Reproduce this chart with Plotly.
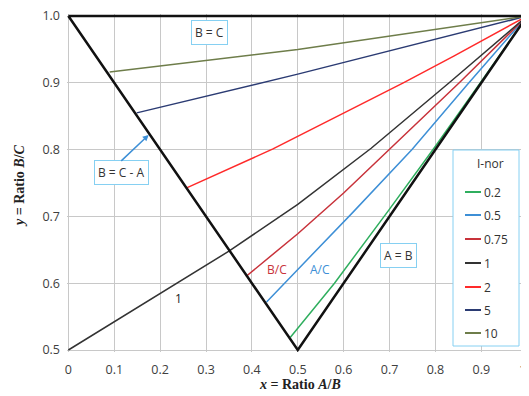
import plotly.graph_objects as go

# ---- data ----
series_names = ["0.2", "0.5", "0.75", "1", "2", "5", "10"]
series_colors = ["#2fae5e", "#3d8fd6", "#c8323a", "#333333", "#ff2a2a", "#2b3b73", "#6e7d4a"]

x_02 = [0.484, 0.58, 0.698, 0.80, 0.90, 1.0]
y_02 = [0.519, 0.60, 0.709, 0.805, 0.902, 1.0]

x_05 = [0.432, 0.62, 0.749, 0.873, 1.0]
y_05 = [0.572, 0.706, 0.80, 0.90, 1.0]

x_075 = [0.387, 0.5, 0.6, 0.70, 0.852, 1.0]
y_075 = [0.610, 0.674, 0.735, 0.80, 0.90, 1.0]

x_1 = [0.0, 0.175, 0.35, 0.5, 0.66, 0.83, 1.0]
y_1 = [0.5, 0.574, 0.648, 0.718, 0.802, 0.90, 1.0]

x_2 = [0.259, 0.446, 0.73, 0.84, 1.0]
y_2 = [0.743, 0.801, 0.90, 0.94, 1.0]

x_5 = [0.149, 0.5, 1.0]
y_5 = [0.855, 0.913, 1.0]

x_10 = [0.09, 0.5, 1.0]
y_10 = [0.916, 0.950, 1.0]

boundary_x = [0.0, 0.5, 1.0, 0.0]
boundary_y = [1.0, 0.5, 1.0, 1.0]

x_ticks = [0, 0.1, 0.2, 0.3, 0.4, 0.5, 0.6, 0.7, 0.8, 0.9]
x_tick_labels = ["0", "0.1", "0.2", "0.3", "0.4", "0.5", "0.6", "0.7", "0.8", "0.9"]
x_last_label = "1"
y_ticks = [0.5, 0.6, 0.7, 0.8, 0.9, 1.0]
y_tick_labels = ["0.5", "0.6", "0.7", "0.8", "0.9", "1.0"]

series_x = [x_02, x_05, x_075, x_1, x_2, x_5, x_10]
series_y = [y_02, y_05, y_075, y_1, y_2, y_5, y_10]

# ---- layout geometry (screen pixels; page body adds an 8px offset) ----
W, H = 521, 388
ML, MR, MT, MB = 59, 0, 6, 44
PL = ML + 8
PT = MT + 8
PW = W - ML - MR
PH = H - MT - MB
PB = PT + PH


def px2x(px):
    return (px - PL) / PW


def py2y(py):
    return (PB - py) / PH


fig = go.Figure()
for name, col, xs, ys in zip(series_names, series_colors, series_x, series_y):
    fig.add_trace(go.Scatter(x=xs, y=ys, mode="lines", name=name, showlegend=False,
                             line=dict(color=col, width=1.5)))

fig.add_trace(go.Scatter(x=boundary_x, y=boundary_y, mode="lines",
                         line=dict(color="#111111", width=2.5),
                         showlegend=False, hoverinfo="skip"))

box_col = "#86d0f2"
txt_font = dict(family="Open Sans, Lato, sans-serif", size=12, color="#333333")
ann = [
    dict(x=0.307, y=0.976, text="B = C", showarrow=False, font=txt_font,
         bordercolor=box_col, borderwidth=1, borderpad=3, bgcolor="white"),
    dict(x=0.116, y=0.765, text="B = C - A", showarrow=False, font=txt_font,
         bordercolor=box_col, borderwidth=1, borderpad=3, bgcolor="white"),
    dict(x=0.72, y=0.642, text="A = B", showarrow=False, font=txt_font,
         bordercolor=box_col, borderwidth=1, borderpad=3, bgcolor="white"),
    dict(x=0.175, y=0.822, ax=0.112, ay=0.781, axref="x", ayref="y", text="",
         showarrow=True, arrowhead=2, arrowsize=0.8, arrowwidth=1.5, arrowcolor="#3d8fd6"),
    dict(x=0.454, y=0.621, text="B/C", showarrow=False,
         font=dict(family="Open Sans, sans-serif", size=12, color="#c8323a")),
    dict(x=0.549, y=0.621, text="A/C", showarrow=False,
         font=dict(family="Open Sans, sans-serif", size=12, color="#3d8fd6")),
    dict(x=0.24, y=0.577, text="1", showarrow=False,
         font=dict(family="Open Sans, sans-serif", size=12, color="#222222")),
    dict(xref="paper", yref="paper", x=px2x(300), y=py2y(384),
         text="<b><i>x</i> = Ratio <i>A</i>/<i>B</i></b>",
         showarrow=False, font=dict(family="Liberation Serif, serif", size=14, color="#222222"),
         xanchor="center", yanchor="middle"),
    dict(xref="paper", yref="paper", x=px2x(20), y=py2y(186),
         text="<b><i>y</i> = Ratio <i>B</i>/<i>C</i></b>",
         showarrow=False, textangle=-90,
         font=dict(family="Liberation Serif, serif", size=14, color="#222222"),
         xanchor="center", yanchor="middle"),
    # last x tick label, kept fully inside the right edge
    dict(xref="paper", yref="paper", x=1.0, y=py2y(369), text=x_last_label,
         showarrow=False, xanchor="right", yanchor="middle", xshift=-1,
         font=dict(family="Open Sans, sans-serif", size=12.5, color="#404040")),
]

# ---- manual legend ----
shapes = [dict(type="rect", xref="paper", yref="paper",
               x0=px2x(453), x1=px2x(519), y0=py2y(346), y1=py2y(150),
               line=dict(color=box_col, width=1), fillcolor="white", layer="above")]
ann.append(dict(xref="paper", yref="paper", x=px2x(490), y=py2y(163), text="I-nor",
                showarrow=False, xanchor="center", yanchor="middle",
                font=dict(family="Open Sans, sans-serif", size=12, color="#333333")))
entry_py = [192, 215, 239, 263, 287, 310, 333]
for name, col, py in zip(series_names, series_colors, entry_py):
    shapes.append(dict(type="line", xref="paper", yref="paper",
                       x0=px2x(465), x1=px2x(481), y0=py2y(py), y1=py2y(py),
                       line=dict(color=col, width=2), layer="above"))
    ann.append(dict(xref="paper", yref="paper", x=px2x(482), y=py2y(py), text=name,
                    showarrow=False, xanchor="left", yanchor="middle",
                    font=dict(family="Open Sans, sans-serif", size=12, color="#333333")))

fig.update_layout(
    width=W, height=H,
    margin=dict(l=ML, r=MR, t=MT, b=MB, pad=0),
    paper_bgcolor="white", plot_bgcolor="white",
    font=dict(family="Open Sans, sans-serif", size=12, color="#404040"),
    annotations=ann, shapes=shapes,
    showlegend=False,
    xaxis=dict(range=[-0.003, 1.004], tickvals=x_ticks, ticktext=x_tick_labels,
               showgrid=True, gridcolor="#c8c8c8", gridwidth=1, zeroline=False,
               showline=False, ticks="", ticklabelstandoff=8, ticklabeloverflow="allow",
               tickfont=dict(size=12.5, color="#404040")),
    yaxis=dict(range=[0.497, 1.003], tickvals=y_ticks, ticktext=y_tick_labels,
               showgrid=True, gridcolor="#c8c8c8", gridwidth=1, zeroline=False,
               showline=False, ticks="", ticklabelstandoff=6, ticklabeloverflow="allow",
               tickfont=dict(size=12.5, color="#404040")),
)

fig.write_html("out.html")
